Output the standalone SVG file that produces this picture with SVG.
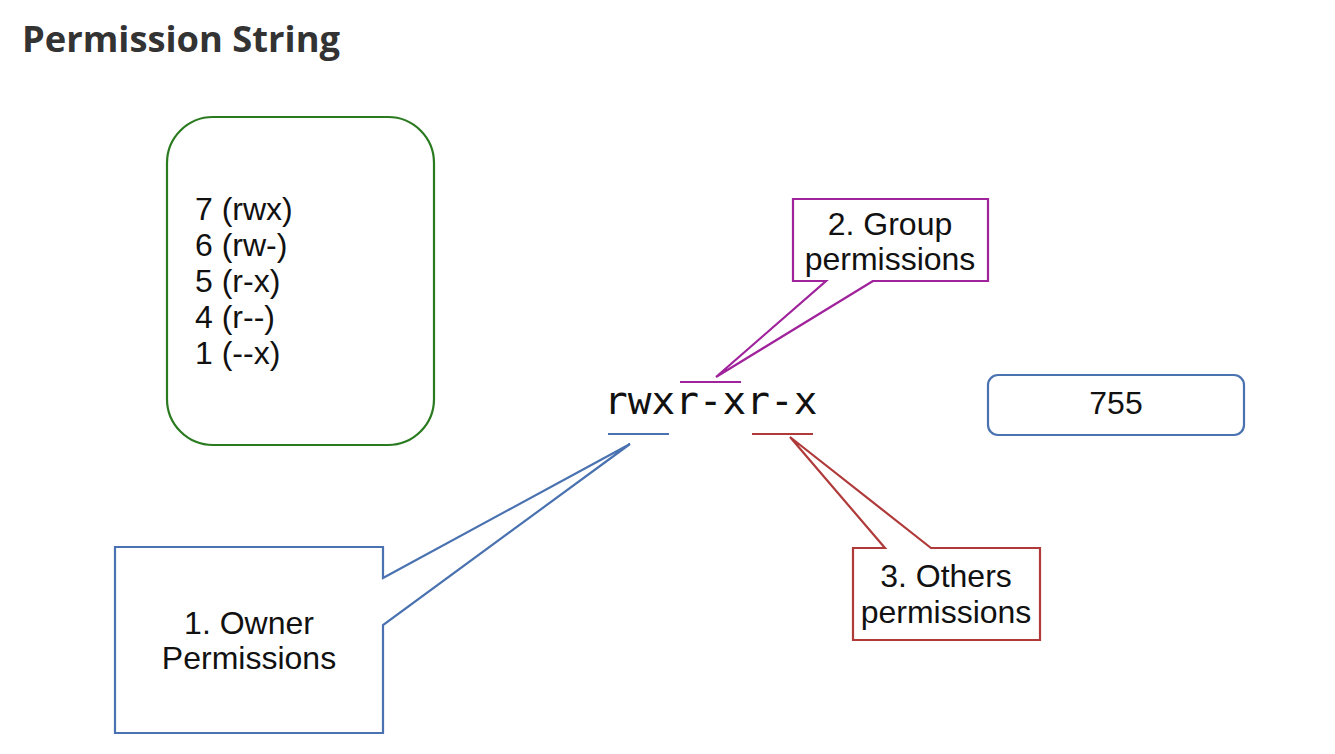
<svg xmlns="http://www.w3.org/2000/svg" width="1335" height="754" viewBox="0 0 1335 754">
<style>
.t{font-family:"Liberation Sans",Arial,sans-serif;font-size:32px;fill:#111}
.c{text-anchor:middle}
.shape{fill:#fff;stroke-width:2.2;stroke-linejoin:miter}
</style>
<rect width="1335" height="754" fill="#fff"/>
<text x="22" y="52" font-family="'Open Sans',sans-serif" font-weight="bold" font-size="36.3" fill="#333">Permission String</text>

<g id="values">
<rect x="167" y="117" width="267" height="328" rx="46" ry="46" class="shape" stroke="#2a7a20"/>
<text class="t" x="195" y="220">7 (rwx)</text>
<text class="t" x="195" y="256">6 (rw-)</text>
<text class="t" x="195" y="292">5 (r-x)</text>
<text class="t" x="195" y="328">4 (r--)</text>
<text class="t" x="195" y="364">1 (--x)</text>
</g>

<g id="perm-string">
<text x="604" y="414" font-family="'DejaVu Sans Mono',monospace" font-size="39.4" fill="#111">rwxr-xr-x</text>
</g>

<g id="octal">
<rect x="988" y="375" width="256" height="60" rx="10" ry="10" class="shape" stroke="#4a72b0"/>
<text class="t c" x="1116" y="414" font-size="30">755</text>
</g>

<g id="connectors" fill="none" stroke-width="2.2">
<line x1="608" y1="434" x2="669" y2="434" stroke="#4a72b0"/>
<line x1="680" y1="382" x2="741" y2="382" stroke="#a0239c"/>
<line x1="752" y1="434" x2="813" y2="434" stroke="#b03a3a"/>
</g>

<g id="owner">
<path class="shape" stroke="#4a72b0" d="M383,578 L630,444 L383,625 L383,733 L115,733 L115,547 L383,547 Z"/>
<text class="t c" x="249" y="634">1. Owner</text>
<text class="t c" x="249" y="669">Permissions</text>
</g>

<g id="group">
<path class="shape" stroke="#a0239c" d="M873,281 L716,377 L826,281 L793,281 L793,199 L988,199 L988,281 Z"/>
<text class="t c" x="890" y="235">2. Group</text>
<text class="t c" x="890" y="270">permissions</text>
</g>

<g id="others">
<path class="shape" stroke="#b03a3a" d="M885,548 L790,437 L931,548 L1040,548 L1040,640 L853,640 L853,548 Z"/>
<text class="t c" x="946" y="587">3. Others</text>
<text class="t c" x="946" y="623">permissions</text>
</g>
</svg>
